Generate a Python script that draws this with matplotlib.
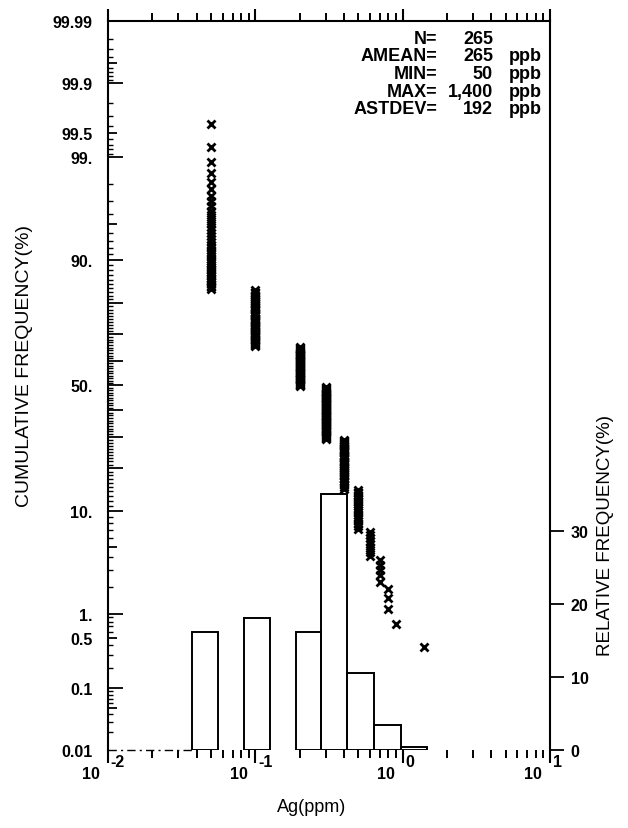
import math
import numpy as np
import matplotlib
matplotlib.use("Agg")
import matplotlib.pyplot as plt
from matplotlib.ticker import FixedLocator, LogLocator, NullFormatter, FuncFormatter

plt.rcParams['font.family'] = ['Liberation Sans', 'DejaVu Sans']

# Ag values (ppm) and how many samples share each value
ag_values = [0.05, 0.1, 0.2, 0.3, 0.4, 0.5, 0.6, 0.7, 0.8, 0.9, 1.4]
ag_counts = [43, 48, 43, 54, 39, 20, 8, 5, 3, 1, 1]

# histogram bin edges (ppm), ratio ~1.5
bin_edges = [0.037, 0.056, 0.084, 0.126, 0.19, 0.28, 0.42, 0.64, 0.97, 1.46]

stat_names = ['N=', 'AMEAN=', 'MIN=', 'MAX=', 'ASTDEV=']
stat_vals = ['265', '265', '50', '1,400', '192']
stat_units = ['', 'ppb', 'ppb', 'ppb', 'ppb']

left_labels = {0.01: '0.01', 0.1: '0.1', 0.5: '0.5', 1: '1.', 10: '10.', 50: '50.',
               90: '90.', 99: '99.', 99.5: '99.5', 99.9: '99.9', 99.99: '99.99'}


# ---- normal probability scale (no scipy here) ----
_a = [-3.969683028665376e+01, 2.209460984245205e+02, -2.759285104469687e+02,
      1.383577518672690e+02, -3.066479806614716e+01, 2.506628277459239e+00]
_b = [-5.447609879822406e+01, 1.615858368580409e+02, -1.556989798598866e+02,
      6.680131188771972e+01, -1.328068155288572e+01]
_c = [-7.784894002430293e-03, -3.223964580411365e-01, -2.400758277161838e+00,
      -2.549732539343734e+00, 4.374664141464968e+00, 2.938163982698783e+00]
_d = [7.784695709041462e-03, 3.224671290700398e-01, 2.445134137142996e+00,
      3.754408661907416e+00]


def ppf(p):
    p = np.clip(np.asarray(p, dtype=float), 1e-12, 1 - 1e-12)
    q = p - 0.5
    r = q * q
    xc = ((((((_a[0]*r+_a[1])*r+_a[2])*r+_a[3])*r+_a[4])*r+_a[5])*q /
          (((((_b[0]*r+_b[1])*r+_b[2])*r+_b[3])*r+_b[4])*r+1))
    ql = np.sqrt(-2*np.log(p))
    xl = ((((((_c[0]*ql+_c[1])*ql+_c[2])*ql+_c[3])*ql+_c[4])*ql+_c[5]) /
          ((((_d[0]*ql+_d[1])*ql+_d[2])*ql+_d[3])*ql+1))
    qu = np.sqrt(-2*np.log(1-p))
    xu = -((((((_c[0]*qu+_c[1])*qu+_c[2])*qu+_c[3])*qu+_c[4])*qu+_c[5]) /
           ((((_d[0]*qu+_d[1])*qu+_d[2])*qu+_d[3])*qu+1))
    return np.where(p < 0.02425, xl, np.where(p > 1 - 0.02425, xu, xc))


_erf = np.vectorize(math.erf)


def fwd(pct):
    return ppf(np.asarray(pct, dtype=float) / 100.0)


def inv(z):
    return 50.0 * (1.0 + _erf(np.asarray(z, dtype=float) / math.sqrt(2)))


# ---- data prep ----
samples = np.sort(np.repeat(ag_values, ag_counts))[::-1]
N = len(samples)
cum_pct = np.arange(1, N + 1) / (N + 1) * 100.0

hist_counts, _ = np.histogram(samples, bins=bin_edges)
rel_freq = hist_counts / N * 100.0
edges = np.array(bin_edges)
widths = np.diff(edges)
keep = hist_counts > 0

fig = plt.figure(figsize=(6.28, 8.29), dpi=100)
ax = fig.add_axes([108/628, 1 - 751/829, 442/628, 729/829])

ax.set_xscale('log')
ax.set_xlim(0.01, 10)
ax.set_yscale('function', functions=(fwd, inv))
ax.set_ylim(0.01, 99.99)

ax.plot(samples, cum_pct, ls='none', marker='x', ms=6, mew=2.0, color='black', zorder=5)

# left axis ticks
long_t = [0.1, 1, 10, 20, 30, 40, 50, 60, 70, 80, 90, 99, 99.9]
mid_t = [0.05, 0.5, 5, 95, 99.5, 99.95]
major_t = sorted(set(long_t + mid_t + list(left_labels.keys())))
small_t = ([round(0.01*i, 2) for i in range(1, 10)] + [round(0.1*i, 1) for i in range(1, 10)] +
           list(range(1, 100)) + [round(99 + 0.1*i, 1) for i in range(1, 10)] +
           [round(99.9 + 0.01*i, 2) for i in range(1, 10)])
small_t = [t for t in small_t if t not in major_t]
ax.yaxis.set_major_locator(FixedLocator(major_t))
ax.yaxis.set_minor_locator(FixedLocator(small_t))
ax.yaxis.set_major_formatter(FuncFormatter(lambda v, pos: left_labels.get(round(v, 2), '')))
ax.yaxis.set_minor_formatter(NullFormatter())
ax.tick_params(axis='y', which='major', direction='in', length=10.5, width=1.3,
               left=True, right=False, pad=11, labelsize=11.5)
ax.tick_params(axis='y', which='minor', direction='in', length=3.8, width=1.0,
               left=True, right=False)
for tk, val in zip(ax.yaxis.get_major_ticks(), major_t):
    if val in mid_t:
        tk.tick1line.set_markersize(6.5)
    elif val in (0.01, 99.99):
        tk.tick1line.set_markersize(0)
for lab in ax.get_yticklabels():
    lab.set_fontweight('bold')

# x axis ticks (top and bottom, outward)
ax.xaxis.set_major_locator(LogLocator(base=10, numticks=10))
ax.xaxis.set_minor_locator(LogLocator(base=10, subs=np.arange(2, 10), numticks=20))
ax.xaxis.set_major_formatter(NullFormatter())
ax.xaxis.set_minor_formatter(NullFormatter())
ax.tick_params(axis='x', which='major', direction='out', top=True, bottom=True,
               length=9, width=1.5)
ax.tick_params(axis='x', which='minor', direction='out', top=True, bottom=True,
               length=5.5, width=1.4)

for k in [-2, -1, 0, 1]:
    ax.annotate('10', xy=(10.0**k, 0), xycoords=('data', 'axes fraction'),
                xytext=(-12, -17), textcoords='offset points', ha='center', va='center',
                fontsize=11.5, fontweight='bold')
    ax.annotate(str(k), xy=(10.0**k, 0), xycoords=('data', 'axes fraction'),
                xytext=(2, -8.5), textcoords='offset points', ha='left', va='center',
                fontsize=11.5, fontweight='bold')

for s in ['top', 'left']:
    ax.spines[s].set_linewidth(1.5)
ax.spines['bottom'].set_visible(False)
ax.spines['right'].set_visible(False)

# dashed stub of baseline left of the first bar
ax.plot([ax.get_xlim()[0], edges[0]], [0.01, 0.01], color='black', lw=1.0,
        ls=(0, (6, 3, 1.5, 3)), clip_on=False)

# histogram on right axis
ax2 = ax.twinx()
ax2.set_ylim(0, 100)
ax2.bar(edges[:-1][keep], rel_freq[keep], width=widths[keep], align='edge',
        fill=False, edgecolor='black', linewidth=1.4)
ax2.set_yticks([0, 10, 20, 30])
ax2.set_yticklabels(['0', '10', '20', '30'], fontweight='bold')
ax2.tick_params(axis='y', direction='out', length=10, width=1.3, pad=5, labelsize=11.5)
for s in ['top', 'left', 'bottom']:
    ax2.spines[s].set_visible(False)
ax2.spines['right'].set_linewidth(1.5)

# labels
fig.text(25/628, 1 - 366/829, 'CUMULATIVE FREQUENCY(%)', rotation=90,
         ha='center', va='center', fontsize=14)
fig.text(606/628, 1 - 535/829, 'RELATIVE FREQUENCY(%)', rotation=90,
         ha='center', va='center', fontsize=13.5)
fig.text(312/628, 1 - 808/829, 'Ag(ppm)', ha='center', va='center', fontsize=13)

# statistics block, one multi-line text per column
block_y = 1 - 74.5/829
fig.text(437/628, block_y, '\n'.join(stat_names), ha='right', va='center',
         multialignment='right', fontsize=13, fontweight='bold', linespacing=1.05)
fig.text(493/628, block_y, '\n'.join(stat_vals), ha='right', va='center',
         multialignment='right', fontsize=13, fontweight='bold', linespacing=1.05)
fig.text(509/628, block_y, '\n'.join(stat_units), ha='left', va='center',
         multialignment='left', fontsize=13, fontweight='bold', linespacing=1.05)

fig.savefig('out.png', dpi=100)
